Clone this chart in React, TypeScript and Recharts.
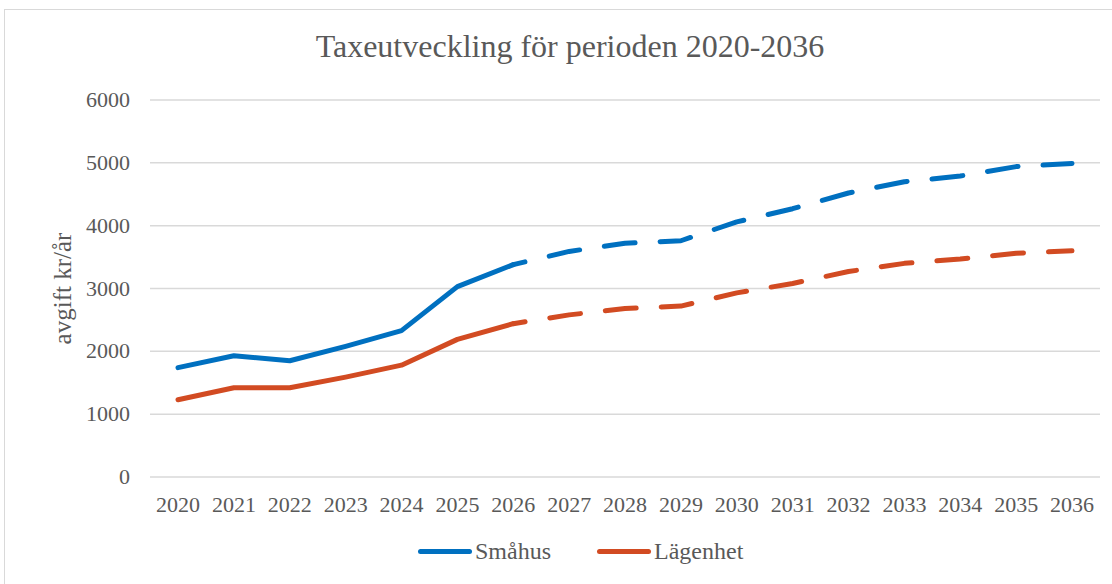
import { CartesianGrid, Line, LineChart, XAxis, YAxis } from "recharts";

const years = [
  "2020", "2021", "2022", "2023", "2024", "2025", "2026", "2027", "2028",
  "2029", "2030", "2031", "2032", "2033", "2034", "2035", "2036",
];
// Småhus, avgift kr/år
const smahus = [
  1740, 1930, 1850, 2080, 2330, 3030, 3380, 3590, 3720, 3760, 4060, 4270,
  4520, 4700, 4790, 4940, 4990,
];
// Lägenhet, avgift kr/år
const lagenhet = [
  1230, 1420, 1420, 1590, 1780, 2190, 2440, 2580, 2680, 2720, 2930, 3080,
  3270, 3400, 3470, 3560, 3600,
];
const yTicks = [0, 1000, 2000, 3000, 4000, 5000, 6000];
// sista året med utfall, därefter prognos (streckad)
const lastActual = "2026";

const BLUE = "#0070C0";
const RED = "#D24B22";
const TEXT = "#595959";
const FONT = "'Liberation Serif', 'Times New Roman', serif";

const cut = years.indexOf(lastActual);
const data = years.map((year, i) => ({
  year,
  smahus: i <= cut ? smahus[i] : null,
  smahusProg: i >= cut ? smahus[i] : null,
  lagenhet: i <= cut ? lagenhet[i] : null,
  lagenhetProg: i >= cut ? lagenhet[i] : null,
}));

const legendItems = [
  { label: "Småhus", color: BLUE },
  { label: "Lägenhet", color: RED },
];

function XTick({ x, y, payload }: any) {
  return (
    <text x={x} y={y + 17} textAnchor="middle" style={{ fill: TEXT, fontSize: 22, fontFamily: FONT }}>
      {payload.value}
    </text>
  );
}

function YTick({ x, y, payload }: any) {
  return (
    <text x={x} y={y + 7} textAnchor="end" style={{ fill: TEXT, fontSize: 22, fontFamily: FONT }}>
      {payload.value}
    </text>
  );
}

export default function App() {
  return (
    <div
      style={{
        position: "absolute",
        left: 0,
        top: 0,
        width: 1112,
        height: 584,
        overflow: "hidden",
        background: "#fff",
        fontFamily: FONT,
      }}
    >
      <div
        style={{
          position: "absolute",
          left: 4,
          top: 9,
          width: 1130,
          height: 600,
          border: "1px solid #d9d9d9",
        }}
      />
      <div
        style={{
          position: "absolute",
          left: 0,
          width: 1140,
          top: 28,
          textAlign: "center",
          fontSize: 32,
          color: TEXT,
        }}
      >
        Taxeutveckling för perioden 2020-2036
      </div>
      <LineChart
        width={1112}
        height={584}
        data={data}
        margin={{ top: 100, right: 12, bottom: 67, left: 0 }}
        style={{ position: "absolute", left: 0, top: 0, fontFamily: FONT }}
      >
        <CartesianGrid vertical={false} stroke="#d9d9d9" strokeWidth={1.5} />
        <XAxis
          dataKey="year"
          axisLine={false}
          tickLine={false}
          tickMargin={12}
          height={40}
          interval={0}
          padding={{ left: 28, right: 28 }}
          tick={<XTick />}
        />
        <YAxis
          width={150}
          domain={[0, 6000]}
          ticks={yTicks}
          axisLine={false}
          tickLine={false}
          tickMargin={14}
          tick={<YTick />}
          label={{
            value: "avgift kr/år",
            angle: -90,
            position: "insideLeft",
            offset: 62,
            style: { fill: TEXT, fontSize: 25, fontFamily: FONT, textAnchor: "middle" },
          }}
        />
        <Line
          dataKey="smahus"
          stroke={BLUE}
          strokeWidth={5}
          strokeLinecap="round"
          strokeLinejoin="round"
          dot={false}
          isAnimationActive={false}
        />
        <Line
          dataKey="smahusProg"
          stroke={BLUE}
          strokeWidth={5}
          strokeDasharray="31 25"
          strokeDashoffset={19}
          strokeLinecap="round"
          strokeLinejoin="round"
          dot={false}
          isAnimationActive={false}
        />
        <Line
          dataKey="lagenhet"
          stroke={RED}
          strokeWidth={5}
          strokeLinecap="round"
          strokeLinejoin="round"
          dot={false}
          isAnimationActive={false}
        />
        <Line
          dataKey="lagenhetProg"
          stroke={RED}
          strokeWidth={5}
          strokeDasharray="31 25"
          strokeDashoffset={19}
          strokeLinecap="round"
          strokeLinejoin="round"
          dot={false}
          isAnimationActive={false}
        />
      </LineChart>
      <div
        style={{
          position: "absolute",
          left: 418,
          top: 538,
          display: "flex",
          gap: 46,
          fontSize: 24,
          color: TEXT,
        }}
      >
        {legendItems.map((item) => (
          <div key={item.label} style={{ display: "flex", alignItems: "center" }}>
            <span
              style={{
                display: "inline-block",
                width: 54,
                height: 5,
                borderRadius: 3,
                background: item.color,
                marginRight: 3,
              }}
            />
            <span>{item.label}</span>
          </div>
        ))}
      </div>
    </div>
  );
}
